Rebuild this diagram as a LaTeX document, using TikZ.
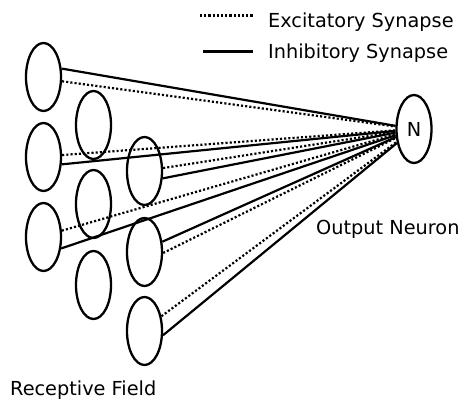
\documentclass[tikz,border=0pt]{standalone}
\usepackage{fontspec}
\setmainfont{DejaVu Sans}
\usetikzlibrary{shapes.geometric}

\tikzset{
  cell/.style={ellipse, draw, line width=2.3pt, minimum width=35pt,
               minimum height=68pt, inner sep=0pt},
  inh/.style={line width=2.2pt},
  exc/.style={line width=2.2pt, dash pattern=on 2.1pt off 2.1pt},
  lbl/.style={font=\fontsize{19.3}{22}\selectfont, inner sep=0pt}
}

\begin{document}
\begin{tikzpicture}[x=1pt, y=-1pt]
  \useasboundingbox (0,0) rectangle (466,399);

  % receptive field, three staggered columns
  \node[cell] (a1) at (43.5,77)  {};
  \node[cell] (a2) at (43.5,157) {};
  \node[cell] (a3) at (43.5,237) {};
  \node[cell] (b1) at (93.5,125) {};
  \node[cell] (b2) at (93.5,204) {};
  \node[cell] (b3) at (93.5,285) {};
  \node[cell] (c1) at (144.5,171) {};
  \node[cell] (c2) at (144.5,252) {};
  \node[cell] (c3) at (144.5,331) {};

  % output neuron
  \node[cell, lbl] (N) at (414,129) {N};

  % synapses onto the output neuron
  \draw[inh] (a1.25)    -- (N);
  \draw[exc] (a1.-13)   -- (N);
  \draw[exc] (a2.6.6)   -- (N);
  \draw[inh] (a2.-22.3) -- (N);
  \draw[exc] (a3.19.2)  -- (N);
  \draw[inh] (a3.-33.6) -- (N);
  \draw[exc] (c1.9.8)   -- (N);
  \draw[inh] (c1.-22.3) -- (N);
  \draw[inh] (c2.30.9)  -- (N);
  \draw[exc] (c2.-3.3)  -- (N);
  \draw[exc] (c3.41.3)  -- (N);
  \draw[inh] (c3.-13)   -- (N);

  % legend
  \coordinate (e0) at (200,15.5);
  \coordinate (e1) at (253,15.5);
  \coordinate (i0) at (203,51.5);
  \coordinate (i1) at (253,51.5);
  \draw[exc] (e0) -- (e1);
  \draw[inh] (i0) -- (i1);
  \node[lbl, anchor=base west] (ex) at (268,27) {Excitatory Synapse};
  \node[lbl, anchor=base west] (ih) at (268,58) {Inhibitory Synapse};

  % captions
  \node[lbl, anchor=base west] (on) at (316,234) {Output Neuron};
  \node[lbl, anchor=base west] (rf) at (10,395) {Receptive Field};
\end{tikzpicture}
\end{document}
